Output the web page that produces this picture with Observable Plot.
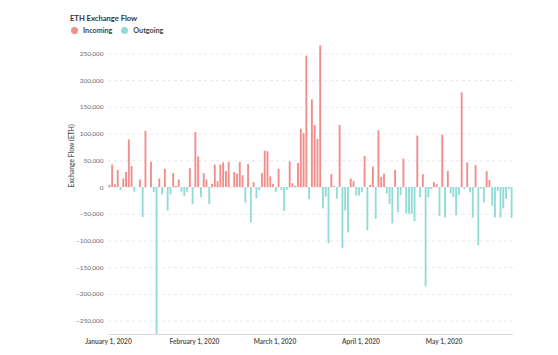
<!DOCTYPE html>
<html>
<head>
<meta charset="utf-8">
<script src="https://cdn.jsdelivr.net/npm/d3@7"></script>
<script src="https://cdn.jsdelivr.net/npm/@observablehq/plot@0.6"></script>
<style>
  html, body { margin: 0; padding: 0; background: #fff; }
  body { width: 558px; height: 355px; position: relative; overflow: hidden; font-family: Lato, "Open Sans", sans-serif; }
  #title { position: absolute; left: 70px; top: 13px; font-size: 7.6px; font-weight: 700; color: #333; }
  #legend { position: absolute; left: 71px; top: 26px; font-size: 7.2px; font-weight: 700; color: #444; display: flex; align-items: center; }
  .sw { width: 7px; height: 7px; border-radius: 50%; display: inline-block; margin-right: 5px; }
  .item { display: flex; align-items: center; margin-right: 9px; }
  #chart { position: absolute; left: 0; top: 0; }
</style>
</head>
<body>
<div id="title">ETH Exchange Flow</div>
<div id="legend"></div>
<div id="chart"></div>
<script>
const startDate = "2020-01-01";
const seriesNames = ["Incoming", "Outgoing"];
const seriesColors = ["#f08e8c", "#93dbd6"];
// daily net exchange flow (ETH), from Jan 1, 2020
const netFlow = [
  4000, 42000, 5000, 32000, -6000, 16000, 28000, 89000, 39000, -9000,
  0, 14000, -56000, 105000, 0, 47000, -9000, -275000, 16000, -14000,
  34000, -44000, -14000, 26000, 2000, 14000, -9000, -17000, -9000, 35000,
  -32000, 103000, 57000, -19000, 26000, 14000, -32000, 6000, 42000, 11000,
  42000, 46000, 30000, 47000, -1000, 28000, 25000, 47000, 22000, -29000,
  43000, -66000, 9000, -21000, -6000, 26000, 68000, 67000, 20000, 6000,
  -9000, 34000, -6000, -45000, -5000, 48000, 7000, 2000, 45000, 109000,
  101000, 246000, -23000, 164000, 116000, 90000, 265000, -40000, -18000, -105000,
  24000, 2000, -22000, 116000, -114000, -44000, -85000, 16000, 11000, -16000,
  -16000, -10000, 58000, -81000, 4000, 38000, -60000, 106000, 19000, 25000,
  -12000, -32000, -68000, 32000, -47000, -15000, 53000, -50000, -50000, -50000,
  -64000, 96000, -19000, 24000, -186000, -19000, -4000, 9000, 5000, -54000,
  98000, -57000, 30000, -12000, -19000, -53000, -15000, 177000, -4000, 46000,
  -10000, -57000, 41000, -109000, -3000, -29000, 30000, 13000, -35000, -57000,
  -7000, -57000, -40000, -22000, -4000, -58000
];
const yTicks = [-250000, -200000, -150000, -100000, -50000, 0, 50000, 100000, 150000, 200000, 250000];
const yDomain = [-275000, 275000];
const monthTicks = ["2020-01-01", "2020-02-01", "2020-03-01", "2020-04-01", "2020-05-01"];
const xEnd = "2020-05-26";

const start = new Date(startDate + "T00:00:00Z");
const data = netFlow.map((v, i) => ({
  date: d3.utcDay.offset(start, i),
  value: v,
  series: v >= 0 ? seriesNames[0] : seriesNames[1]
}));

// legend
const legend = document.getElementById("legend");
seriesNames.forEach((n, i) => {
  const it = document.createElement("span");
  it.className = "item";
  it.innerHTML = `<span class="sw" style="background:${seriesColors[i]}"></span>${n}`;
  legend.appendChild(it);
});

const chart = Plot.plot({
  width: 558,
  height: 355,
  marginTop: 40,
  marginBottom: 21,
  marginLeft: 108,
  marginRight: 45,
  style: { fontFamily: "Lato, sans-serif", background: "transparent" },
  x: {
    type: "utc",
    domain: [start, new Date(xEnd + "T00:00:00Z")],
    ticks: monthTicks.map(d => new Date(d + "T00:00:00Z")),
    tickFormat: d3.utcFormat("%B %-d, %Y"),
    label: null
  },
  y: {
    domain: yDomain,
    ticks: yTicks,
    tickFormat: d3.format(","),
    label: null
  },
  color: { domain: seriesNames, range: seriesColors },
  marks: [
    Plot.ruleY(yTicks, { stroke: "#e4e4e4", strokeDasharray: "3,3", strokeWidth: 0.8 }),
    Plot.ruleY([yDomain[0]], { stroke: "#d8d8d8", strokeWidth: 1 }),
    Plot.rectY(data, { x: "date", y: "value", interval: "day", fill: "series", insetLeft: 0.45, insetRight: 0.45 }),
    Plot.axisY({ ticks: yTicks, tickFormat: d3.format(","), tickSize: 0, tickPadding: 5, fontSize: 6.4, color: "#6b6b6b", label: null }),
    Plot.axisX({ ticks: monthTicks.map(d => new Date(d + "T00:00:00Z")), tickFormat: d3.utcFormat("%B %-d, %Y"), tickSize: 0, tickPadding: 5, fontSize: 6.6, fontWeight: 700, color: "#555", label: null }),
    Plot.text(["Exchange Flow (ETH)"], { frameAnchor: "left", dx: -37, rotate: -90, fontSize: 6.8, fill: "#555", fontWeight: 600 })
  ]
});
document.getElementById("chart").appendChild(chart);
</script>
</body>
</html>
